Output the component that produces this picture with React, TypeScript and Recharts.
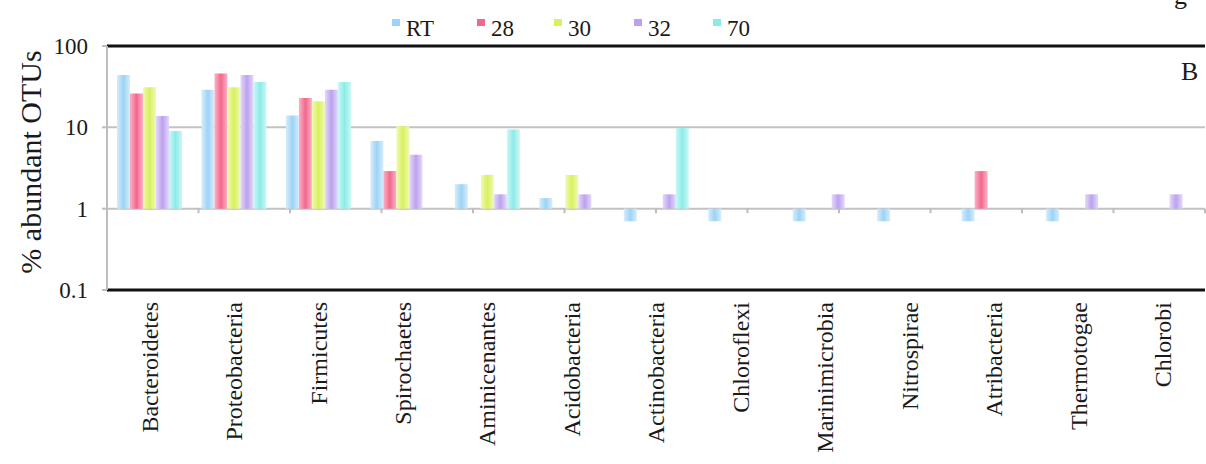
import { BarChart, Bar, XAxis, YAxis, CartesianGrid, ReferenceLine, Customized } from 'recharts';

const phyla = [
  'Bacteroidetes', 'Proteobacteria', 'Firmicutes', 'Spirochaetes', 'Aminicenantes',
  'Acidobacteria', 'Actinobacteria', 'Chloroflexi', 'Marinimicrobia', 'Nitrospirae',
  'Atribacteria', 'Thermotogae', 'Chlorobi',
];

// % abundant OTUs per phylum (null = no bar)
const rt = [44, 29, 14, 6.8, 2.0, 1.35, 0.7, 0.7, 0.7, 0.7, 0.7, 0.7, null];
const t28 = [26, 46, 23, 2.9, null, null, null, null, null, null, 2.9, null, null];
const t30 = [31, 31, 21, 10.3, 2.6, 2.6, null, null, null, null, null, null, null];
const t32 = [13.8, 44, 29, 4.6, 1.5, 1.5, 1.5, null, 1.5, null, null, 1.5, 1.5];
const t70 = [9, 36, 36, null, 9.4, null, 9.8, null, null, null, null, null, null];

const yTicks = [0.1, 1, 10, 100];
const boundaries = [1, 2, 3, 4, 5, 6, 7, 8, 9, 10, 11, 12];

const series = [
  { key: 'RT', values: rt, center: '#9dd3f6', edge: '#d6edfc' },
  { key: '28', values: t28, center: '#f2678d', edge: '#fbb3c6' },
  { key: '30', values: t30, center: '#d9f05e', edge: '#f0fab6' },
  { key: '32', values: t32, center: '#bca2ee', edge: '#e4d8fa' },
  { key: '70', values: t70, center: '#8debe7', edge: '#cbf8f6' },
];

// bars hang from 1 (Excel-style axis crossing), so store [low, high]
const toRange = (v: number | null) => (v == null ? [1, 1] : [Math.min(1, v), Math.max(1, v)]);

const data = phyla.map((name, i) => {
  const row: any = { name };
  series.forEach((s) => {
    row[s.key] = toRange(s.values[i]);
  });
  return row;
});

const FONT = 'Liberation Serif, Times New Roman, serif';

const PhylumTick = ({ x, y, payload }: any) => (
  <text
    x={x}
    y={y}
    transform={`rotate(-90, ${x}, ${y})`}
    textAnchor="end"
    dy="0.35em"
    style={{ fontFamily: FONT }}
    fontSize={24}
    fill="#1a1a1a"
  >
    {payload.value}
  </text>
);

const Extras = () => (
  <g style={{ fontFamily: FONT }} fill="#1a1a1a">
    <text x={30} y={162} transform="rotate(-90, 30, 162)" textAnchor="middle" dy="0.35em" fontSize={30}>
      % abundant OTUs
    </text>
    <text x={1181} y={80} fontSize={26}>B</text>
    <text x={1174} y={4} fontSize={26}>g</text>
    {series.map((s, i) => {
      const lx = [392, 477, 554, 634, 713][i];
      return (
        <g key={s.key}>
          <rect x={lx} y={19} width={8} height={7} fill={s.center} />
          <text x={lx + 14} y={36} fontSize={23}>{s.key}</text>
        </g>
      );
    })}
  </g>
);

export default function App() {
  return (
    <div style={{ position: 'absolute', left: 0, top: 0, background: '#fff' }}>
      <BarChart
        width={1206}
        height={464}
        data={data}
        margin={{ top: 46, right: 1, bottom: 0, left: 0 }}
        barCategoryGap={10}
        barGap={0}
      >
        <defs>
          {series.map((s) => (
            <linearGradient key={s.key} id={`grad-${s.key}`} x1="0" y1="0" x2="1" y2="0">
              <stop offset="0%" stopColor={s.edge} />
              <stop offset="50%" stopColor={s.center} />
              <stop offset="100%" stopColor={s.edge} />
            </linearGradient>
          ))}
        </defs>
        <CartesianGrid vertical={false} stroke="#c2c2c2" strokeWidth={2} />
        <XAxis
          dataKey="name"
          height={174}
          interval={0}
          tickLine={false}
          tickSize={0}
          tickMargin={12}
          axisLine={{ stroke: '#111', strokeWidth: 3 }}
          tick={<PhylumTick />}
        />
        <XAxis xAxisId="num" type="number" domain={[0, 13]} hide />
        <YAxis
          scale="log"
          domain={[0.1, 100]}
          ticks={yTicks}
          allowDataOverflow
          width={107}
          axisLine={{ stroke: '#bdbdbd', strokeWidth: 2 }}
          tickLine={{ stroke: '#bdbdbd', strokeWidth: 2 }}
          tickSize={5}
          tickMargin={14}
          tick={{ fontFamily: FONT, fontSize: 23, fill: '#1a1a1a' }}
        />
        <ReferenceLine xAxisId="num" x={13} stroke="#c8c8c8" strokeWidth={1} />
        <ReferenceLine y={100} stroke="#111" strokeWidth={3} />
        {boundaries.map((b) => (
          <ReferenceLine
            key={b}
            xAxisId="num"
            segment={[{ x: b, y: 1 }, { x: b, y: 0.88 }]}
            stroke="#bdbdbd"
            strokeWidth={2}
          />
        ))}
        {series.map((s) => (
          <Bar key={s.key} dataKey={s.key} fill={`url(#grad-${s.key})`} isAnimationActive={false} />
        ))}
        <Customized component={Extras} />
      </BarChart>
    </div>
  );
}
